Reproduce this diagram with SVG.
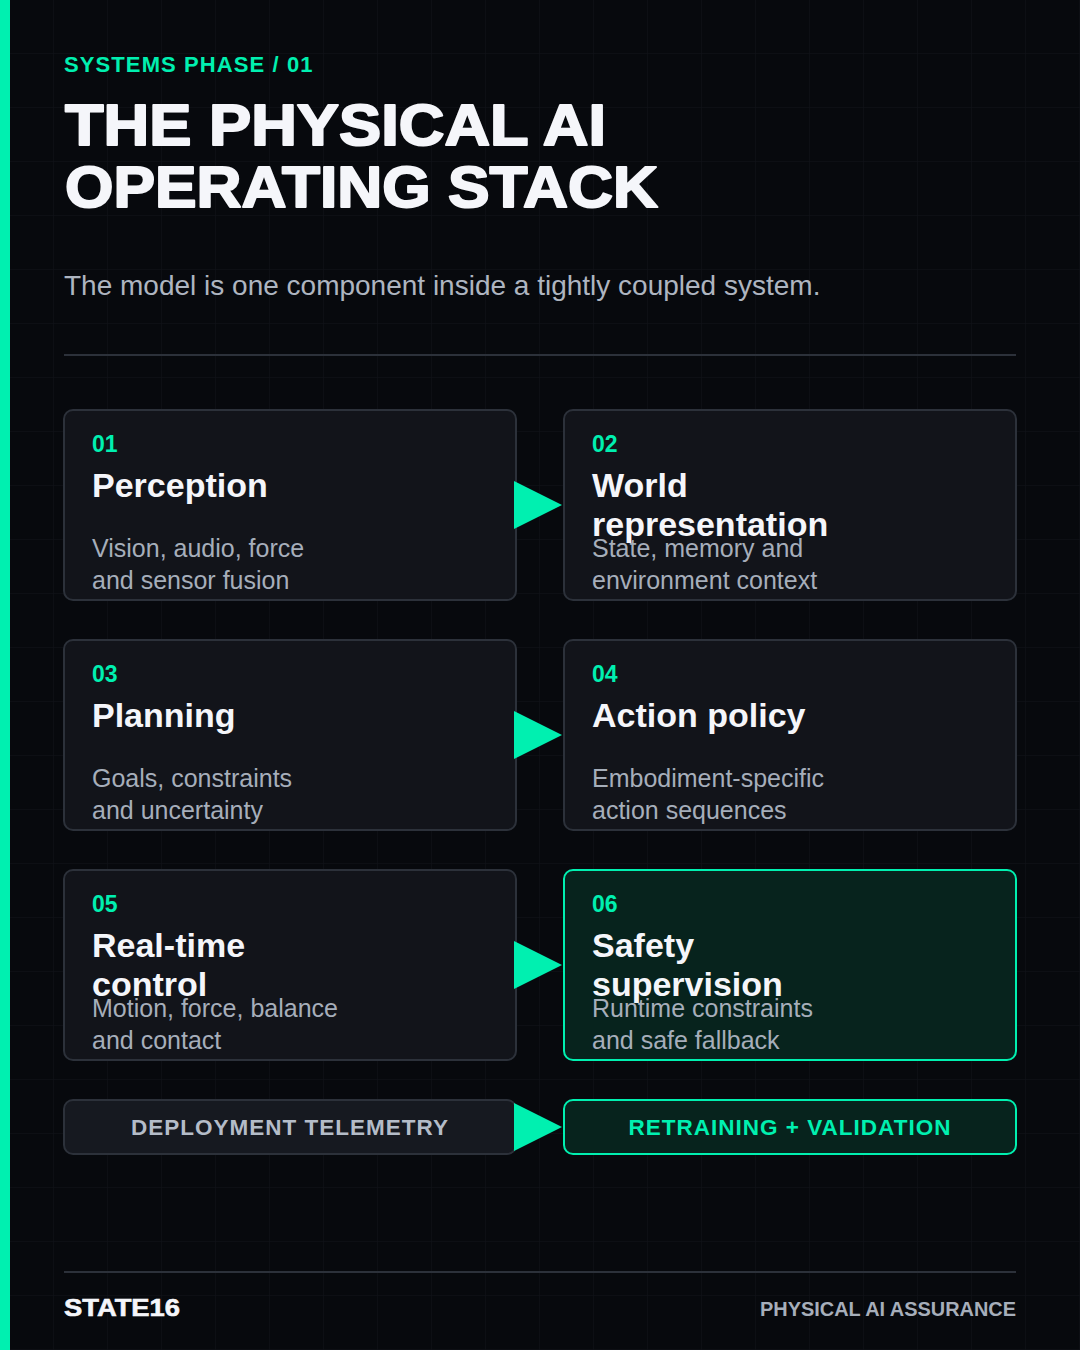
<svg xmlns="http://www.w3.org/2000/svg" width="1080" height="1350" viewBox="0 0 1080 1350">
<defs>
<pattern id="grid" width="54" height="54" patternUnits="userSpaceOnUse">
<path d="M54 0V54M0 54H54" fill="none" stroke="#11141a" stroke-width="1"/>
</pattern>
<style>
.f{font-family:"Liberation Sans",Arial,sans-serif}
.box{fill:#12141a;stroke:#2c313a;stroke-width:2}
.hot{fill:#07231d;stroke:#00f0b0;stroke-width:2}
.num{font-family:"Liberation Sans",Arial,sans-serif;font-weight:700;font-size:23px;fill:#00f0b0}
.ttl{font-family:"Liberation Sans",Arial,sans-serif;font-weight:700;font-size:34px;fill:#f5f6fa}
.dsc{font-family:"Liberation Sans",Arial,sans-serif;font-size:25px;fill:#a6aeba}
.arr{fill:#00f0b0}
.big{font-family:"Liberation Sans",Arial,sans-serif;font-weight:900;font-size:58px;fill:#f5f6fa;stroke:#f5f6fa;stroke-width:2;stroke-linejoin:round}
.bar{font-family:"Liberation Sans",Arial,sans-serif;font-weight:700;font-size:22.5px;letter-spacing:1px;text-anchor:middle}
</style>
</defs>
<rect width="1080" height="1350" fill="#07090d"/>
<rect width="1080" height="1350" fill="url(#grid)"/>
<rect x="0" y="0" width="10" height="1350" fill="#00f0b0"/>

<g id="header">
<text class="f" x="64" y="72" font-size="22" font-weight="700" letter-spacing="1.1" fill="#00f0b0">SYSTEMS PHASE / 01</text>
<text class="big" x="65" y="145" textLength="541" lengthAdjust="spacingAndGlyphs">THE PHYSICAL AI</text>
<text class="big" x="65" y="207" textLength="593" lengthAdjust="spacingAndGlyphs">OPERATING STACK</text>
<text class="f" x="64" y="295" font-size="28" fill="#aeb5c0">The model is one component inside a tightly coupled system.</text>
<line x1="64" y1="355" x2="1016" y2="355" stroke="#2c313a" stroke-width="2"/>
</g>

<g id="node-01">
<rect class="box" x="64" y="410" width="452" height="190" rx="9"/>
<text class="num" x="92" y="452">01</text>
<text class="ttl" x="92" y="497">Perception</text>
<text class="dsc" x="92" y="557">Vision, audio, force</text>
<text class="dsc" x="92" y="589">and sensor fusion</text>
</g>
<g id="node-02">
<rect class="box" x="564" y="410" width="452" height="190" rx="9"/>
<text class="num" x="592" y="452">02</text>
<text class="ttl" x="592" y="497">World</text>
<text class="ttl" x="592" y="536">representation</text>
<text class="dsc" x="592" y="557">State, memory and</text>
<text class="dsc" x="592" y="589">environment context</text>
</g>
<g id="node-03">
<rect class="box" x="64" y="640" width="452" height="190" rx="9"/>
<text class="num" x="92" y="682">03</text>
<text class="ttl" x="92" y="727">Planning</text>
<text class="dsc" x="92" y="787">Goals, constraints</text>
<text class="dsc" x="92" y="819">and uncertainty</text>
</g>
<g id="node-04">
<rect class="box" x="564" y="640" width="452" height="190" rx="9"/>
<text class="num" x="592" y="682">04</text>
<text class="ttl" x="592" y="727">Action policy</text>
<text class="dsc" x="592" y="787">Embodiment-specific</text>
<text class="dsc" x="592" y="819">action sequences</text>
</g>
<g id="node-05">
<rect class="box" x="64" y="870" width="452" height="190" rx="9"/>
<text class="num" x="92" y="912">05</text>
<text class="ttl" x="92" y="957">Real-time</text>
<text class="ttl" x="92" y="996">control</text>
<text class="dsc" x="92" y="1017">Motion, force, balance</text>
<text class="dsc" x="92" y="1049">and contact</text>
</g>
<g id="node-06">
<rect class="hot" x="564" y="870" width="452" height="190" rx="9"/>
<text class="num" x="592" y="912">06</text>
<text class="ttl" x="592" y="957">Safety</text>
<text class="ttl" x="592" y="996">supervision</text>
<text class="dsc" x="592" y="1017">Runtime constraints</text>
<text class="dsc" x="592" y="1049">and safe fallback</text>
</g>
<g id="node-telemetry">
<rect x="64" y="1100" width="452" height="54" rx="9" fill="#161920" stroke="#2c313a" stroke-width="2"/>
<text class="bar" x="290" y="1135" fill="#b4bcc8">DEPLOYMENT TELEMETRY</text>
</g>
<g id="node-retraining">
<rect class="hot" x="564" y="1100" width="452" height="54" rx="9"/>
<text class="bar" x="790" y="1135" fill="#00f0b0">RETRAINING + VALIDATION</text>
</g>

<g id="connectors">
<polygon class="arr" points="514,481 562,505 514,529"/>
<polygon class="arr" points="514,711 562,735 514,759"/>
<polygon class="arr" points="514,941 562,965 514,989"/>
<polygon class="arr" points="514,1103 562,1127 514,1151"/>
</g>

<g id="footer">
<line x1="64" y1="1272" x2="1016" y2="1272" stroke="#2c313a" stroke-width="2"/>
<text class="f" x="64" y="1316" font-size="24" font-weight="900" fill="#f5f6fa" stroke="#f5f6fa" stroke-width="0.6" textLength="116" lengthAdjust="spacingAndGlyphs">STATE16</text>
<text class="f" x="1016" y="1316" font-size="20" font-weight="700" fill="#a6aeba" text-anchor="end" textLength="256" lengthAdjust="spacingAndGlyphs">PHYSICAL AI ASSURANCE</text>
</g>
</svg>
